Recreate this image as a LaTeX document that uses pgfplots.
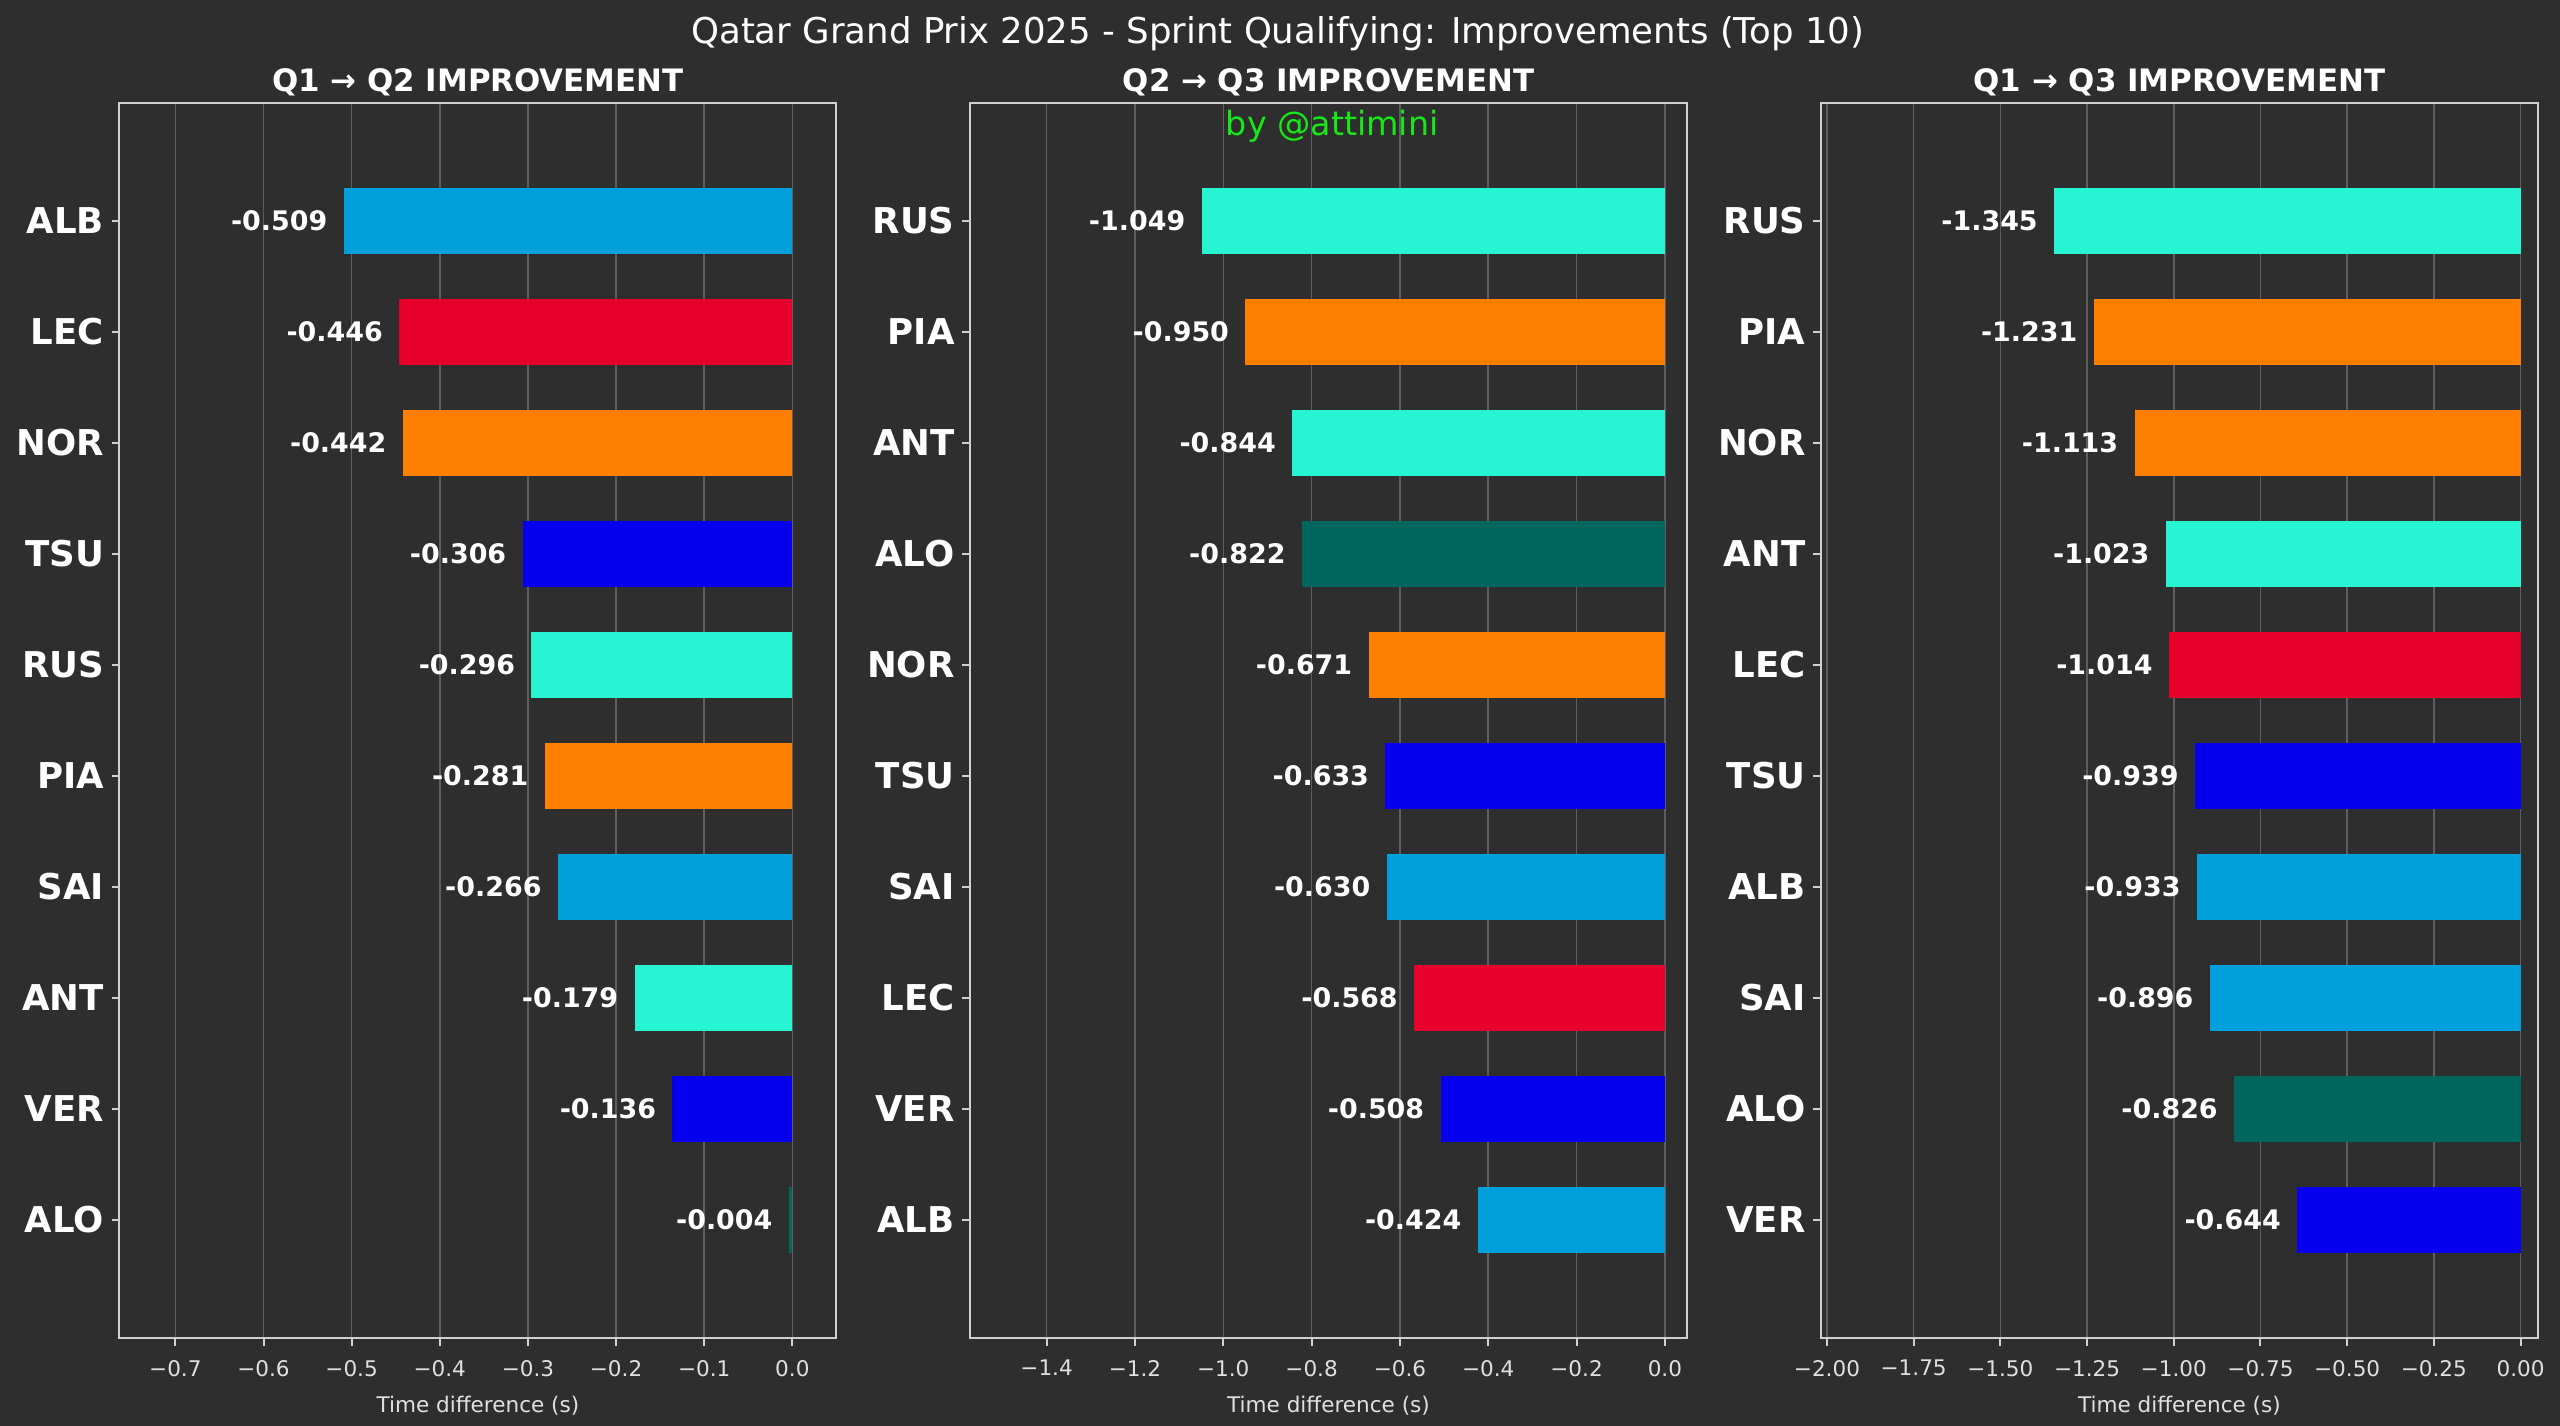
\documentclass[border=0pt]{standalone}
\usepackage{fontspec}
\setmainfont{DejaVu Sans}
\usepackage{pgfplots}
\pgfplotsset{compat=1.18}
\definecolor{bg}{HTML}{2E2E2E}
\definecolor{gridc}{HTML}{5E5E5E}
\definecolor{spine}{HTML}{D0D0D0}
\definecolor{tickt}{HTML}{E0E0E0}
\definecolor{wil}{HTML}{00A0DC}
\definecolor{fer}{HTML}{E8002D}
\definecolor{mcl}{HTML}{FF8000}
\definecolor{rbr}{HTML}{0600EF}
\definecolor{mer}{HTML}{27F4D2}
\definecolor{ast}{HTML}{00665E}
\definecolor{grn}{HTML}{18E818}
\newcommand{\hb}[3]{\addplot[fill=#1, draw=none, bar shift=0pt, nodes near coords={#2}] coordinates {(#2,#3)};}
\pgfplotsset{f1/.style={
  scale only axis, width=322.65pt, height=556pt, anchor=south west,
  xbar, bar shift=0pt, bar width=0.6,
  y dir=reverse, ymin=-1.065, ymax=10.065, ytick={0,...,9},
  axis background/.style={fill=bg},
  axis line style={spine, line width=0.9pt},
  xmajorgrids, grid style={gridc, line width=0.7pt},
  tick style={spine, line width=0.9pt},
  major tick length=3.4pt,
  tick align=outside, xtick pos=bottom, ytick pos=left,
  xticklabel style={font=\fontsize{9.7}{11}\selectfont, text=tickt, yshift=-2.9pt},
  yticklabel style={font=\fontsize{16}{19}\selectfont\bfseries, text=white},
  xlabel={Time difference (s)},
  xlabel style={font=\fontsize{9.7}{11}\selectfont, text=tickt, yshift=-2.2pt},
  title style={font=\fontsize{13.9}{16}\selectfont\bfseries, text=white, at={(0.5,1)}, anchor=base, yshift=-1.05pt},
  nodes near coords style={anchor=east, inner sep=0pt, xshift=-7.2pt, font=\fontsize{12.1}{14}\selectfont\bfseries, text=white},
}}
\begin{document}
\begin{tikzpicture}
\fill[bg] (0,0) rectangle (1152pt,641.7pt);
\path[use as bounding box] (0,0) rectangle (1152pt,641.7pt);
\node[anchor=base, text=white, font=\fontsize{16}{18}\selectfont] at (575pt,621.9pt) {Qatar Grand Prix 2025 - Sprint Qualifying: Improvements (Top 10)};

\begin{axis}[f1, at={(53.73pt,39.5pt)},
  title={Q1 → Q2 IMPROVEMENT},
  xmin=-0.7635, xmax=0.05,
  xtick={-0.7,-0.6,-0.5,-0.4,-0.3,-0.2,-0.1,0},
  xticklabels={−0.7,−0.6,−0.5,−0.4,−0.3,−0.2,−0.1,0.0},
  yticklabels={ALB,LEC,NOR,TSU,RUS,PIA,SAI,ANT,VER,ALO}]
\hb{wil}{-0.509}{0}
\hb{fer}{-0.446}{1}
\hb{mcl}{-0.442}{2}
\hb{rbr}{-0.306}{3}
\hb{mer}{-0.296}{4}
\hb{mcl}{-0.281}{5}
\hb{wil}{-0.266}{6}
\hb{mer}{-0.179}{7}
\hb{rbr}{-0.136}{8}
\hb{ast}{-0.004}{9}
\end{axis}

\begin{axis}[f1, at={(436.5pt,39.5pt)},
  title={Q2 → Q3 IMPROVEMENT},
  xmin=-1.5735, xmax=0.05,
  xtick={-1.4,-1.2,-1.0,-0.8,-0.6,-0.4,-0.2,0},
  xticklabels={−1.4,−1.2,−1.0,−0.8,−0.6,−0.4,−0.2,0.0},
  yticklabels={RUS,PIA,ANT,ALO,NOR,TSU,SAI,LEC,VER,ALB}]
\hb{mer}{-1.049}{0}
\hb{mcl}{-0.950}{1}
\hb{mer}{-0.844}{2}
\hb{ast}{-0.822}{3}
\hb{mcl}{-0.671}{4}
\hb{rbr}{-0.633}{5}
\hb{wil}{-0.630}{6}
\hb{fer}{-0.568}{7}
\hb{rbr}{-0.508}{8}
\hb{wil}{-0.424}{9}
\end{axis}

\begin{axis}[f1, at={(819.4pt,39.5pt)},
  title={Q1 → Q3 IMPROVEMENT},
  xmin=-2.0175, xmax=0.05,
  xtick={-2,-1.75,-1.5,-1.25,-1,-0.75,-0.5,-0.25,0},
  xticklabels={−2.00,−1.75,−1.50,−1.25,−1.00,−0.75,−0.50,−0.25,0.00},
  yticklabels={RUS,PIA,NOR,ANT,LEC,TSU,ALB,SAI,ALO,VER}]
\hb{mer}{-1.345}{0}
\hb{mcl}{-1.231}{1}
\hb{mcl}{-1.113}{2}
\hb{mer}{-1.023}{3}
\hb{fer}{-1.014}{4}
\hb{rbr}{-0.939}{5}
\hb{wil}{-0.933}{6}
\hb{wil}{-0.896}{7}
\hb{ast}{-0.826}{8}
\hb{rbr}{-0.644}{9}
\end{axis}

\node[anchor=base, text=grn, font=\fontsize{15}{17}\selectfont] at (599.5pt,580.5pt) {by @attimini};
\end{tikzpicture}
\end{document}
